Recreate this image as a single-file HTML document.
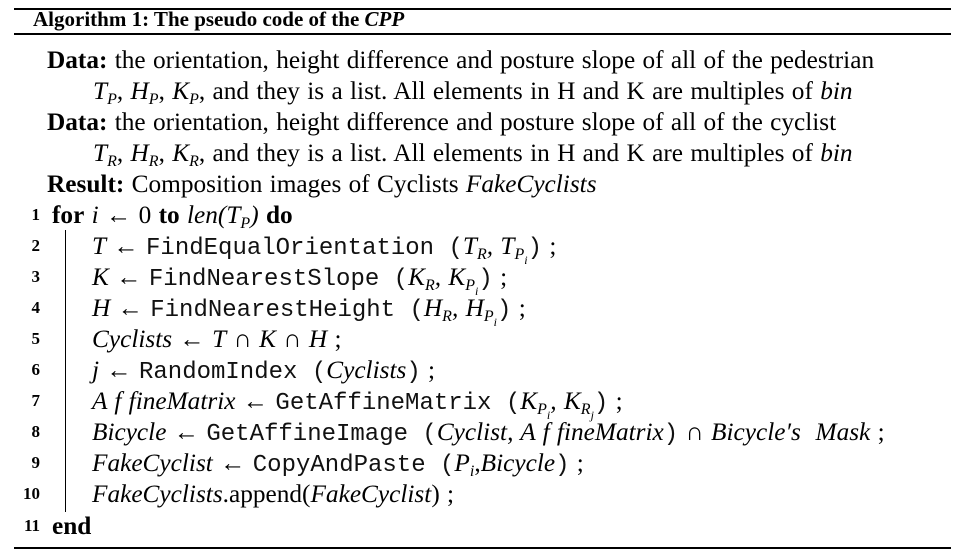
<!DOCTYPE html>
<html><head><meta charset="utf-8">
<style>
html,body{margin:0;padding:0;background:#fff;}
#algo{position:relative;width:965px;height:560px;overflow:hidden;font-family:"Liberation Serif",serif;font-size:25.3px;word-spacing:1px;color:#000;}
.row{position:absolute;white-space:nowrap;line-height:26px;height:26px;}
.rule{position:absolute;left:14px;width:937px;background:#000;}
.num{position:absolute;width:28px;text-align:right;font-weight:bold;font-size:17px;line-height:26px;left:12px;}
.tt{font-family:"Liberation Mono",monospace;font-size:24px;color:#111;word-spacing:0;}
i{font-style:italic;}
sub{font-size:16px;vertical-align:-5px;line-height:0;}
sub sub{font-size:12px;}
b{font-weight:bold;}
</style></head><body>
<div id="algo">
<div class="rule" style="top:8px;height:2px"></div>
<div class="row" style="left:33px;top:6px;font-weight:bold;font-size:21px;word-spacing:0">Algorithm 1: The pseudo code of the <i>CPP</i></div>
<div class="rule" style="top:33px;height:1.5px"></div>

<div class="row" style="left:47px;top:47px"><b>Data:</b> the orientation, height difference and posture slope of all of the pedestrian</div>
<div class="row" style="left:93px;top:78px"><i>T<sub>P</sub></i>, <i>H<sub>P</sub></i>, <i>K<sub>P</sub></i>, and they is a list. All elements in H and K are multiples of <i>bin</i></div>
<div class="row" style="left:47px;top:109px"><b>Data:</b> the orientation, height difference and posture slope of all of the cyclist</div>
<div class="row" style="left:93px;top:140px"><i>T<sub>R</sub></i>, <i>H<sub>R</sub></i>, <i>K<sub>R</sub></i>, and they is a list. All elements in H and K are multiples of <i>bin</i></div>
<div class="row" style="left:47px;top:171px"><b>Result:</b> Composition images of Cyclists <i>FakeCyclists</i></div>

<div class="num" style="top:202px">1</div>
<div class="row" style="left:52px;top:202px"><b>for</b> <i>i</i> ← 0 <b>to</b> <i>len(T<sub>P</sub>)</i> <b>do</b></div>

<div style="position:absolute;left:65px;top:230px;width:1.3px;height:282px;background:#000"></div>

<div class="num" style="top:233px">2</div>
<div class="row" style="left:92px;top:233px"><i>T</i> ← <span class="tt">FindEqualOrientation (</span><i>T<sub>R</sub>, T<sub>P<sub>i</sub></sub></i><span class="tt">)</span> ;</div>
<div class="num" style="top:264px">3</div>
<div class="row" style="left:92px;top:264px"><i>K</i> ← <span class="tt">FindNearestSlope (</span><i>K<sub>R</sub>, K<sub>P<sub>i</sub></sub></i><span class="tt">)</span> ;</div>
<div class="num" style="top:295px">4</div>
<div class="row" style="left:92px;top:295px"><i>H</i> ← <span class="tt">FindNearestHeight (</span><i>H<sub>R</sub>, H<sub>P<sub>i</sub></sub></i><span class="tt">)</span> ;</div>
<div class="num" style="top:326px">5</div>
<div class="row" style="left:92px;top:326px"><i>Cyclists</i> ← <i>T</i> ∩ <i>K</i> ∩ <i>H</i> ;</div>
<div class="num" style="top:357px">6</div>
<div class="row" style="left:92px;top:357px"><i>j</i> ← <span class="tt">RandomIndex (</span><i>Cyclists</i><span class="tt">)</span> ;</div>
<div class="num" style="top:388px">7</div>
<div class="row" style="left:92px;top:388px"><i>A f fineMatrix</i> ← <span class="tt">GetAffineMatrix (</span><i>K<sub>P<sub>i</sub></sub>, K<sub>R<sub>j</sub></sub></i><span class="tt">)</span> ;</div>
<div class="num" style="top:419px">8</div>
<div class="row" style="left:92px;top:419px"><i>Bicycle</i> ← <span class="tt">GetAffineImage (</span><i>Cyclist, A f fineMatrix</i><span class="tt">)</span> ∩ <i>Bicycle′s&nbsp; Mask</i> ;</div>
<div class="num" style="top:450px">9</div>
<div class="row" style="left:92px;top:450px"><i>FakeCyclist</i> ← <span class="tt">CopyAndPaste (</span><i>P<sub>i</sub></i>,<i>Bicycle</i><span class="tt">)</span> ;</div>
<div class="num" style="top:481px">10</div>
<div class="row" style="left:92px;top:481px"><i>FakeCyclists</i>.append(<i>FakeCyclist</i>) ;</div>
<div class="num" style="top:513px">11</div>
<div class="row" style="left:52px;top:513px;font-weight:bold">end</div>

<div class="rule" style="top:547px;height:2px"></div>
</div>
</body></html>
